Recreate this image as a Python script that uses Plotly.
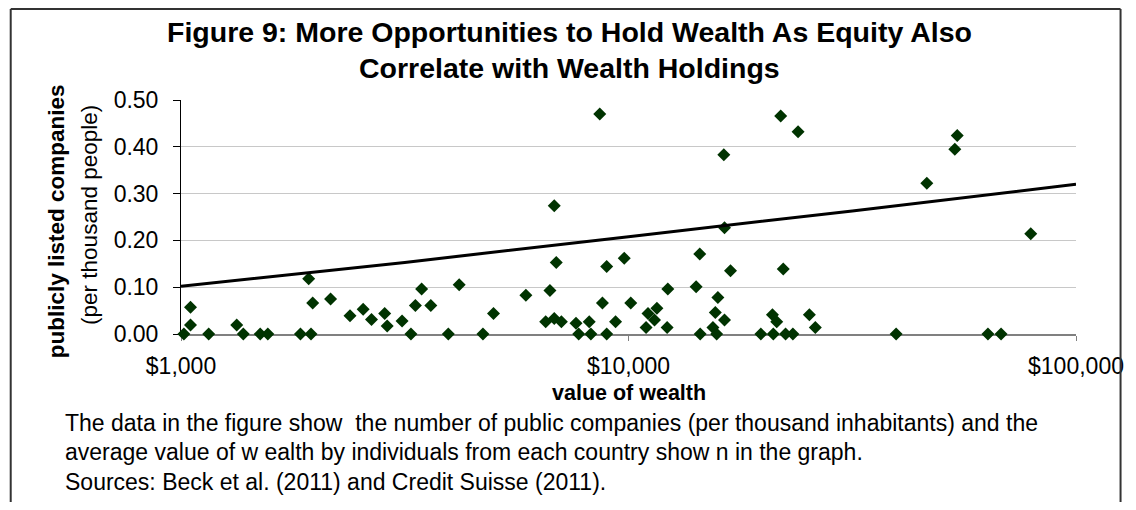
import plotly.graph_objects as go

# ---- data ----
wealth = [1015, 1050, 1050, 1153, 1332, 1378, 1503, 1563, 1849, 1952,
          1929, 1969, 2159, 2386, 2553, 2665, 2852, 2889, 3119, 3265,
          3340, 3449, 3616, 3957, 4185, 4728, 4993, 5897, 6675, 6530,
          6824, 7080, 6824, 6896, 7633, 7739, 8170, 8240, 8624, 8746,
          8938, 8938, 9357, 9783, 10118, 10947, 11056, 11574, 11431, 12241,
          12200, 14160, 14430, 14460, 15840, 15630, 16390, 15440, 15740, 16330,
          16390, 16900, 21880, 23930, 22170, 20970, 21440, 19760, 21070, 22440,
          23300, 25360, 26150, 39630, 46410, 54270, 53600, 63560, 68000, 79220]
companies = [0.000, 0.019, 0.057, 0.000, 0.019, 0.000, 0.000, 0.000, 0.000, 0.000,
             0.118, 0.066, 0.075, 0.039, 0.053, 0.031, 0.044, 0.017, 0.028, 0.000,
             0.061, 0.096, 0.061, 0.000, 0.105, 0.000, 0.044, 0.083, 0.093, 0.026,
             0.033, 0.026, 0.274, 0.153, 0.023, 0.000, 0.026, 0.000, 0.470, 0.066,
             0.144, 0.000, 0.026, 0.162, 0.066, 0.014, 0.044, 0.055, 0.030, 0.096,
             0.014, 0.101, 0.171, 0.000, 0.078, 0.046, 0.030, 0.014, 0.000, 0.383,
             0.227, 0.135, 0.466, 0.432, 0.139, 0.041, 0.026, 0.000, 0.000, 0.000,
             0.000, 0.041, 0.014, 0.000, 0.322, 0.424, 0.395, 0.000, 0.000, 0.214]

trend_x = [1000, 3162, 10000, 31623, 100000]
trend_y = [0.102, 0.153, 0.208, 0.263, 0.320]

y_ticks = [0.0, 0.1, 0.2, 0.3, 0.4, 0.5]
x_ticks = [1000, 10000, 100000]
x_ticktext = ["$1,000", "$10,000", "$100,000"]

title_lines = ["Figure 9: More Opportunities to Hold Wealth As Equity Also",
               "Correlate with Wealth Holdings"]
y_title_bold = "publicly listed companies"
y_title_sub = "(per thousand people)"
x_title = "value of wealth"
caption_lines = [
    "The data in the figure show  the number of public companies (per thousand inhabitants) and the",
    "average value of w ealth by individuals from each country show n in the graph.",
    "Sources: Beck et al. (2011) and Credit Suisse (2011).",
]

# ---- layout geometry (screen px; the page body adds an 8px offset) ----
OFF = 8
W, H = 1128, 494
L, R, T, B = 181 - OFF, 51, 100 - OFF, H - (334 - OFF)
PW, PH = W - L - R, H - T - B
FONT = "Liberation Sans, Arial, sans-serif"


def xp(px):
    return (px - OFF - L) / PW


def yp(py):
    return (H - B - (py - OFF)) / PH


fig = go.Figure()
fig.add_trace(go.Scatter(
    x=wealth, y=companies, mode="markers",
    marker=dict(symbol="diamond", size=10, color="#003300"),
    cliponaxis=False, showlegend=False, hoverinfo="x+y"))
fig.add_trace(go.Scatter(
    x=trend_x, y=trend_y, mode="lines",
    line=dict(color="black", width=3),
    showlegend=False, hoverinfo="skip"))

ann = []
for txt, py in zip(title_lines, [32, 68]):
    ann.append(dict(text=f"<b>{txt}</b>", x=xp(573), y=yp(py), xref="paper", yref="paper",
                    xanchor="center", yanchor="middle", showarrow=False,
                    font=dict(family=FONT, size=28.5, color="black")))
ann.append(dict(text=f"<b>{y_title_bold}</b>", x=xp(55), y=yp(221), xref="paper", yref="paper",
                xanchor="center", yanchor="middle", showarrow=False, textangle=-90,
                font=dict(family=FONT, size=22.5, color="black")))
ann.append(dict(text=y_title_sub, x=xp(88), y=yp(215), xref="paper", yref="paper",
                xanchor="center", yanchor="middle", showarrow=False, textangle=-90,
                font=dict(family=FONT, size=22.5, color="black")))
ann.append(dict(text=f"<b>{x_title}</b>", x=xp(633), y=yp(393), xref="paper", yref="paper",
                xanchor="center", yanchor="middle", showarrow=False,
                font=dict(family=FONT, size=21.5, color="black")))
for txt, py in zip(caption_lines, [423, 452, 482]):
    ann.append(dict(text=txt, x=xp(62), y=yp(py), xref="paper", yref="paper",
                    xanchor="left", yanchor="middle", showarrow=False,
                    font=dict(family=FONT, size=23, color="black")))

border = dict(color="#333333", width=2)
fig.update_layout(
    width=W, height=H,
    margin=dict(l=L, r=R, t=T, b=B, pad=0),
    paper_bgcolor="white", plot_bgcolor="white",
    annotations=ann,
    shapes=[
        dict(type="line", xref="paper", yref="paper", x0=xp(9), x1=xp(9),
             y0=yp(9), y1=yp(520), line=border, layer="above"),
        dict(type="line", xref="paper", yref="paper", x0=xp(9), x1=xp(1130),
             y0=yp(9), y1=yp(9), line=border, layer="above"),
        dict(type="line", xref="paper", yref="paper", x0=xp(1130), x1=xp(1130),
             y0=yp(9), y1=yp(520), line=border, layer="above"),
    ],
    xaxis=dict(type="log", range=[3, 5], tickvals=x_ticks, ticktext=x_ticktext,
               showgrid=False, zeroline=False, showline=True, linecolor="#808080",
               linewidth=2, ticks="outside", ticklen=5, tickcolor="#808080",
               tickfont=dict(family=FONT, size=23, color="black"),
               ticklabelstandoff=5, layer="below traces"),
    yaxis=dict(range=[0, 0.5], tickvals=y_ticks, tickformat=".2f",
               showgrid=True, gridcolor="#c8c8c8", gridwidth=1, zeroline=False,
               showline=True, linecolor="black", linewidth=1, ticks="outside",
               ticklen=7, tickcolor="black",
               tickfont=dict(family=FONT, size=23, color="black"),
               ticklabelstandoff=10, layer="below traces"),
    hovermode="closest",
)

fig.write_html("out.html")
